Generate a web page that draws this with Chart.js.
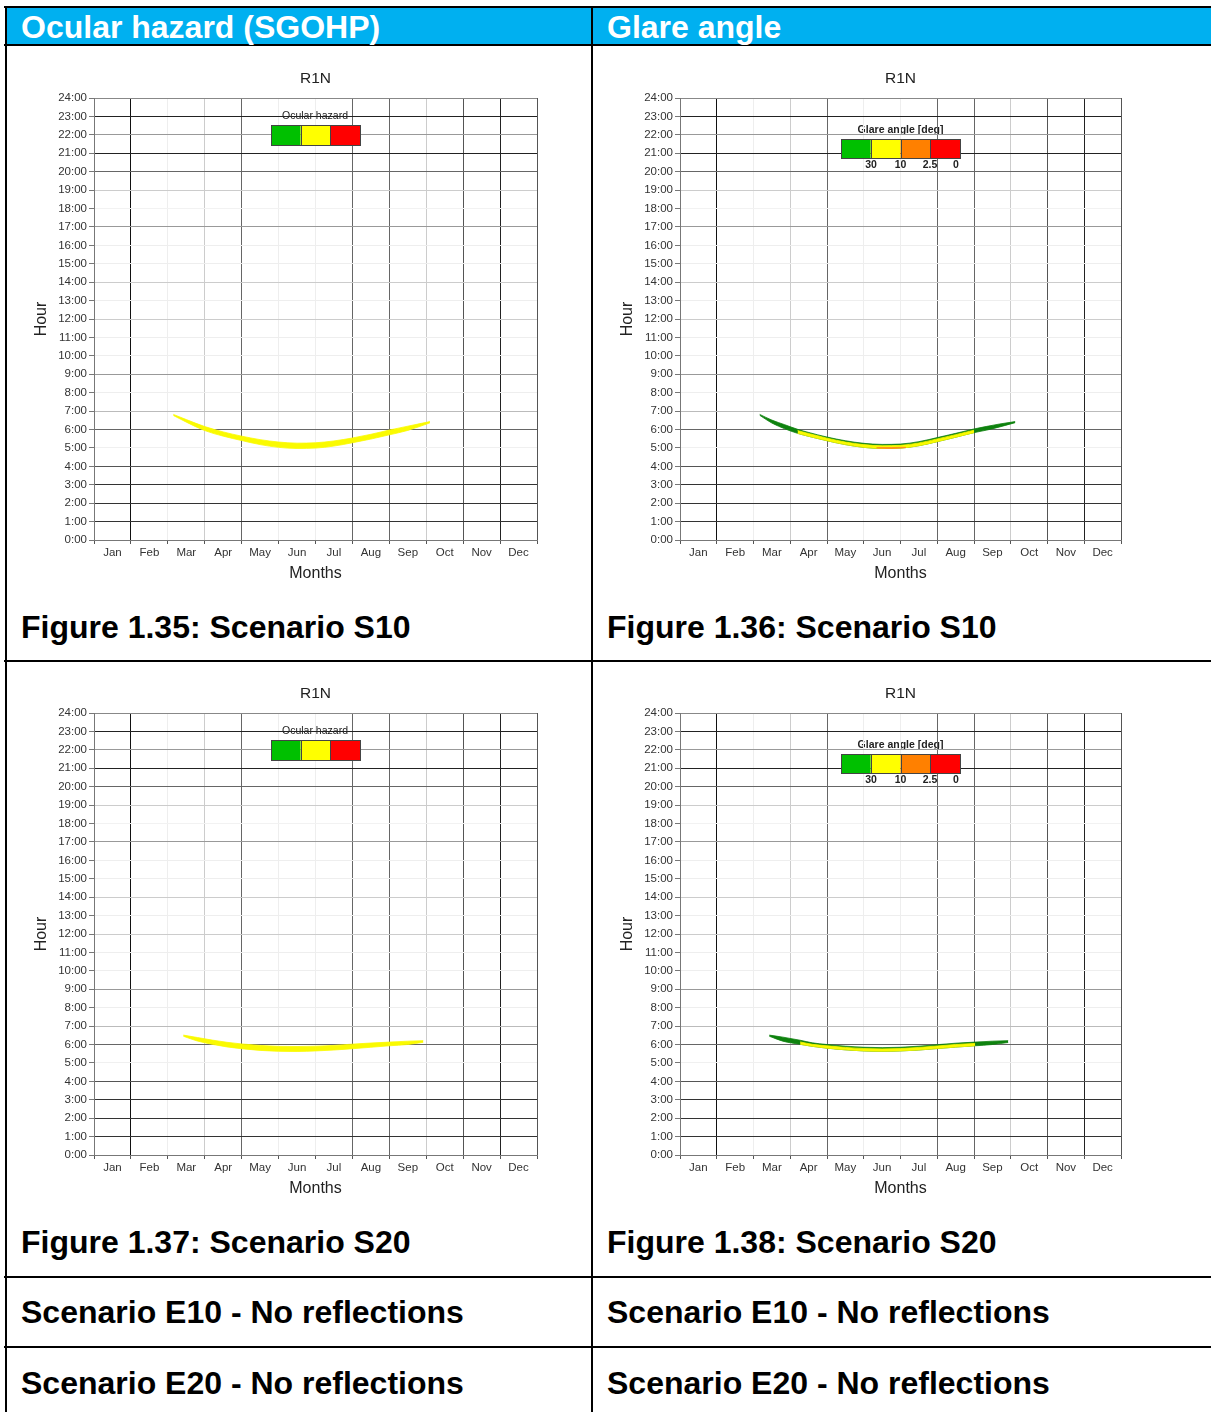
<!DOCTYPE html>
<html><head><meta charset="utf-8">
<script src="https://cdn.jsdelivr.net/npm/chart.js@4.4.1/dist/chart.umd.min.js"></script>
<style>
body{margin:0;width:1211px;height:1412px;position:relative;overflow:hidden;background:#fff;font-family:"Liberation Sans",Arial,sans-serif;}
.b{position:absolute;background:#000}
.blue{position:absolute;background:#00B0F0}
.t{position:absolute;font-weight:bold;font-size:32px;line-height:32px;white-space:nowrap;color:#000}
.w{color:#fff}
canvas{position:absolute}
</style></head><body>
<div class="blue" style="left:7px;top:8px;width:1204px;height:36px"></div>
<div class="b" style="left:4px;top:6px;width:1207px;height:2px"></div>
<div class="b" style="left:4px;top:44px;width:1207px;height:2px"></div>
<div class="b" style="left:4px;top:660px;width:1207px;height:2px"></div>
<div class="b" style="left:4px;top:1276px;width:1207px;height:2px"></div>
<div class="b" style="left:4px;top:1346px;width:1207px;height:2px"></div>
<div class="b" style="left:5px;top:6px;width:2px;height:1406px"></div>
<div class="b" style="left:591px;top:6px;width:2px;height:1406px"></div>

<div class="t w" style="left:21px;top:11px">Ocular hazard (SGOHP)</div>
<div class="t w" style="left:607px;top:11px">Glare angle</div>
<div class="t" style="left:21px;top:611px">Figure 1.35: Scenario S10</div>
<div class="t" style="left:607px;top:611px">Figure 1.36: Scenario S10</div>
<div class="t" style="left:21px;top:1226px">Figure 1.37: Scenario S20</div>
<div class="t" style="left:607px;top:1226px">Figure 1.38: Scenario S20</div>
<div class="t" style="left:21px;top:1296px">Scenario E10 - No reflections</div>
<div class="t" style="left:607px;top:1296px">Scenario E10 - No reflections</div>
<div class="t" style="left:21px;top:1367px">Scenario E20 - No reflections</div>
<div class="t" style="left:607px;top:1367px">Scenario E20 - No reflections</div>

<canvas id="c1" width="580" height="560" style="left:8px;top:50px"></canvas>
<canvas id="c2" width="580" height="560" style="left:594px;top:50px"></canvas>
<canvas id="c3" width="580" height="560" style="left:8px;top:665px"></canvas>
<canvas id="c4" width="580" height="560" style="left:594px;top:665px"></canvas>

<script>
// ---------- labels ----------
const months = ['Jan','Feb','Mar','Apr','May','Jun','Jul','Aug','Sep','Oct','Nov','Dec'];
const hourLabels = ['0:00','1:00','2:00','3:00','4:00','5:00','6:00','7:00','8:00','9:00','10:00','11:00','12:00',
  '13:00','14:00','15:00','16:00','17:00','18:00','19:00','20:00','21:00','22:00','23:00','24:00'];
const chartTitle = 'R1N';
const ocularLegendTitle = 'Ocular hazard';
const glareLegendTitle = 'Glare angle [deg]';
const glareLegendLabels = ['30','10','2.5','0'];

// ---------- data (x = month position 0..12, y = hour) ----------
// Scenario S10 – ocular hazard (yellow band)
const ocS10X     = [2.15, 2.5, 3.0, 3.5, 4.0, 4.5, 5.0, 5.5, 6.0, 6.5, 7.0, 7.5, 8.0, 8.5, 9.1];
const ocS10Upper = [6.82, 6.54, 6.16, 5.87, 5.64, 5.45, 5.32, 5.26, 5.28, 5.38, 5.54, 5.74, 5.97, 6.18, 6.43];
const ocS10Lower = [6.76, 6.40, 5.94, 5.64, 5.40, 5.18, 5.03, 4.97, 4.99, 5.10, 5.28, 5.48, 5.71, 5.95, 6.36];

// Scenario S10 – glare angle
const glS10X        = [2.17, 2.5, 2.85, 3.2, 3.5, 4.0, 4.5, 5.0, 5.5, 6.0, 6.5, 7.0, 7.5, 8.0, 8.35, 8.7, 9.12];
const glS10Upper    = [6.82, 6.51, 6.26, 6.01, 5.84, 5.59, 5.39, 5.25, 5.19, 5.21, 5.34, 5.56, 5.79, 6.03, 6.17, 6.30, 6.43];
const glS10Lower    = [6.77, 6.35, 6.04, 5.79, 5.63, 5.39, 5.18, 5.03, 4.97, 4.99, 5.12, 5.34, 5.58, 5.83, 5.97, 6.14, 6.37];
const glS10YellowFrom = 3, glS10YellowTo = 13;
const glS10YellowTop  = [5.94, 5.78, 5.53, 5.32, 5.18, 5.12, 5.14, 5.27, 5.49, 5.72, 5.96];
const glS10OrangeX    = [5.35, 5.55, 5.75, 5.95, 6.15];
const glS10OrangeLow  = [5.00, 4.98, 4.97, 4.99, 5.02];
const glS10OrangeTop  = [5.01, 5.02, 5.02, 5.03, 5.03];

// Scenario S20 – ocular hazard
const ocS20X     = [2.42, 2.8, 3.2, 3.6, 4.0, 4.5, 5.0, 5.5, 6.0, 6.5, 7.0, 7.5, 8.0, 8.5, 8.92];
const ocS20Upper = [6.51, 6.38, 6.24, 6.12, 6.03, 5.95, 5.90, 5.89, 5.91, 5.95, 6.02, 6.08, 6.13, 6.18, 6.21];
const ocS20Lower = [6.45, 6.19, 6.01, 5.87, 5.77, 5.68, 5.63, 5.62, 5.65, 5.70, 5.77, 5.85, 5.93, 6.00, 6.12];

// Scenario S20 – glare angle
const glS20X        = [2.43, 2.8, 3.27, 3.6, 4.0, 4.5, 5.0, 5.5, 6.0, 6.5, 7.0, 7.5, 8.03, 8.5, 8.93];
const glS20Upper    = [6.51, 6.40, 6.23, 6.09, 6.00, 5.91, 5.85, 5.83, 5.85, 5.91, 5.99, 6.07, 6.13, 6.18, 6.21];
const glS20Lower    = [6.45, 6.18, 6.01, 5.90, 5.80, 5.71, 5.65, 5.63, 5.65, 5.70, 5.78, 5.86, 5.93, 6.00, 6.11];
const glS20YellowFrom = 2, glS20YellowTo = 12;
const glS20YellowTop  = [6.14, 6.01, 5.93, 5.84, 5.78, 5.76, 5.78, 5.84, 5.92, 6.00, 6.06];

// ---------- styles ----------
const YELLOW = '#FAFA00', GREEN = '#0E820E', ORANGE = '#FF8C1A';
const hourGridShade  = ['#777','#333','#333','#333','#555','#f0f0f0','#666','#bbb','#eee','#999','#eee','#eee','#ccc',
  '#eee','#ccc','#eee','#eee','#999','#f2f2f2','#ccc','#666','#222','#999','#222','#888'];
const monthGridShade = ['#777','#111','#eee','#ccc','#666','#eee','#eee','#666','#666','#ccc','#555','#222','#555'];

function pts(xs, ys){ return xs.map((x,i)=>({x:x, y:ys[i]})); }
function band(xs, up, low, color){
  const common = {borderColor: color, borderWidth: 0.8, pointRadius: 0, cubicInterpolationMode: 'monotone'};
  return [
    Object.assign({data: pts(xs, up), fill: '+1', backgroundColor: color}, common),
    Object.assign({data: pts(xs, low), fill: false}, common)
  ];
}

const decor = {
  id: 'decor',
  beforeDraw(chart, args, o){
    const {ctx, chartArea: a} = chart;
    const cx = (a.left + a.right) / 2;
    ctx.save();
    ctx.fillStyle = '#222';
    ctx.textAlign = 'center'; ctx.textBaseline = 'middle';
    ctx.font = '15.5px "Liberation Sans", Arial, sans-serif';
    ctx.fillText(chartTitle, cx, a.top - 19);
    if (o.kind === 'ocular'){
      ctx.font = '10.5px "Liberation Sans", Arial, sans-serif';
      ctx.fillText(ocularLegendTitle, a.left + 221, a.top + 18);
    } else {
      ctx.font = 'bold 10.5px "Liberation Sans", Arial, sans-serif';
      ctx.fillText(glareLegendTitle, a.left + 220.5, a.top + 32);
      const lx = [191, 220.5, 250, 276];
      glareLegendLabels.forEach((t,i)=>ctx.fillText(t, a.left + lx[i], a.top + 67));
    }
    ctx.restore();
  },
  afterDatasetsDraw(chart, args, o){
    const {ctx, chartArea: a} = chart;
    ctx.save();
    let x0, y0, w, h, cols;
    if (o.kind === 'ocular'){ x0 = a.left + 177; y0 = a.top + 27; w = 89; h = 20; cols = ['#00C000','#FFFF00','#FF0000']; }
    else { x0 = a.left + 161; y0 = a.top + 41; w = 119; h = 19; cols = ['#00C000','#FFFF00','#FF8000','#FF0000']; }
    const cw = w / cols.length;
    cols.forEach((c,i)=>{ ctx.fillStyle = c; ctx.fillRect(x0 + i*cw, y0, cw, h); });
    ctx.strokeStyle = '#444'; ctx.lineWidth = 1;
    ctx.strokeRect(x0 + 0.5, y0 + 0.5, w, h);
    for (let i = 1; i < cols.length; i++){
      ctx.beginPath(); ctx.moveTo(Math.round(x0 + i*cw) + 0.5, y0); ctx.lineTo(Math.round(x0 + i*cw) + 0.5, y0 + h); ctx.stroke();
    }
    ctx.restore();
  }
};

function makeChart(id, datasets, kind, rightPad){
  return new Chart(document.getElementById(id), {
    type: 'line',
    data: {datasets: datasets},
    plugins: [decor],
    options: {
      responsive: false, animation: false, events: [],
      layout: {padding: {left: 20, right: rightPad, top: 48, bottom: 20}},
      plugins: {legend: {display: false}, tooltip: {enabled: false}, title: {display: false}, decor: {kind: kind}},
      scales: {
        x: {
          type: 'linear', min: 0, max: 12,
          afterFit(s){ s.height = 50; },
          ticks: {stepSize: 0.5, autoSkip: false, maxRotation: 0, padding: 2, color: '#333',
            font: {family: '"Liberation Sans", Arial, sans-serif', size: 11.5},
            callback: (v) => Number.isInteger(v) ? '' : months[Math.floor(v)]},
          grid: {tickLength: 4, lineWidth: 1,
            color: (c) => Number.isInteger(c.tick.value) ? monthGridShade[c.tick.value] : 'rgba(0,0,0,0)',
            tickColor: (c) => Number.isInteger(c.tick.value) ? '#555' : 'rgba(0,0,0,0)'},
          border: {color: '#777', width: 1},
          title: {display: true, text: 'Months', color: '#222', padding: {top: 0, bottom: 7},
            font: {family: '"Liberation Sans", Arial, sans-serif', size: 16}}
        },
        y: {
          type: 'linear', min: 0, max: 24,
          afterFit(s){ s.width = 66; },
          ticks: {stepSize: 1, autoSkip: false, padding: 2, color: '#333',
            font: {family: '"Liberation Sans", Arial, sans-serif', size: 11.5},
            callback: (v) => hourLabels[v]},
          grid: {tickLength: 5, lineWidth: 1,
            color: (c) => hourGridShade[c.tick.value],
            tickColor: '#777'},
          border: {color: '#777', width: 1},
          title: {display: true, text: 'Hour', color: '#222', padding: {top: 4, bottom: 0},
            font: {family: '"Liberation Sans", Arial, sans-serif', size: 16}}
        }
      }
    }
  });
}

// chart 1: S10 ocular
makeChart('c1', band(ocS10X, ocS10Upper, ocS10Lower, YELLOW), 'ocular', 51);

// chart 2: S10 glare
makeChart('c2', [].concat(
  band(glS10OrangeX, glS10OrangeTop, glS10OrangeLow, ORANGE),
  band(glS10X.slice(glS10YellowFrom, glS10YellowTo + 1), glS10YellowTop, glS10Lower.slice(glS10YellowFrom, glS10YellowTo + 1), YELLOW),
  band(glS10X, glS10Upper, glS10Lower, GREEN)
), 'glare', 53);

// chart 3: S20 ocular
makeChart('c3', band(ocS20X, ocS20Upper, ocS20Lower, YELLOW), 'ocular', 51);

// chart 4: S20 glare
makeChart('c4', [].concat(
  band(glS20X.slice(glS20YellowFrom, glS20YellowTo + 1), glS20YellowTop, glS20Lower.slice(glS20YellowFrom, glS20YellowTo + 1), YELLOW),
  band(glS20X, glS20Upper, glS20Lower, GREEN)
), 'glare', 53);
</script>
</body></html>
